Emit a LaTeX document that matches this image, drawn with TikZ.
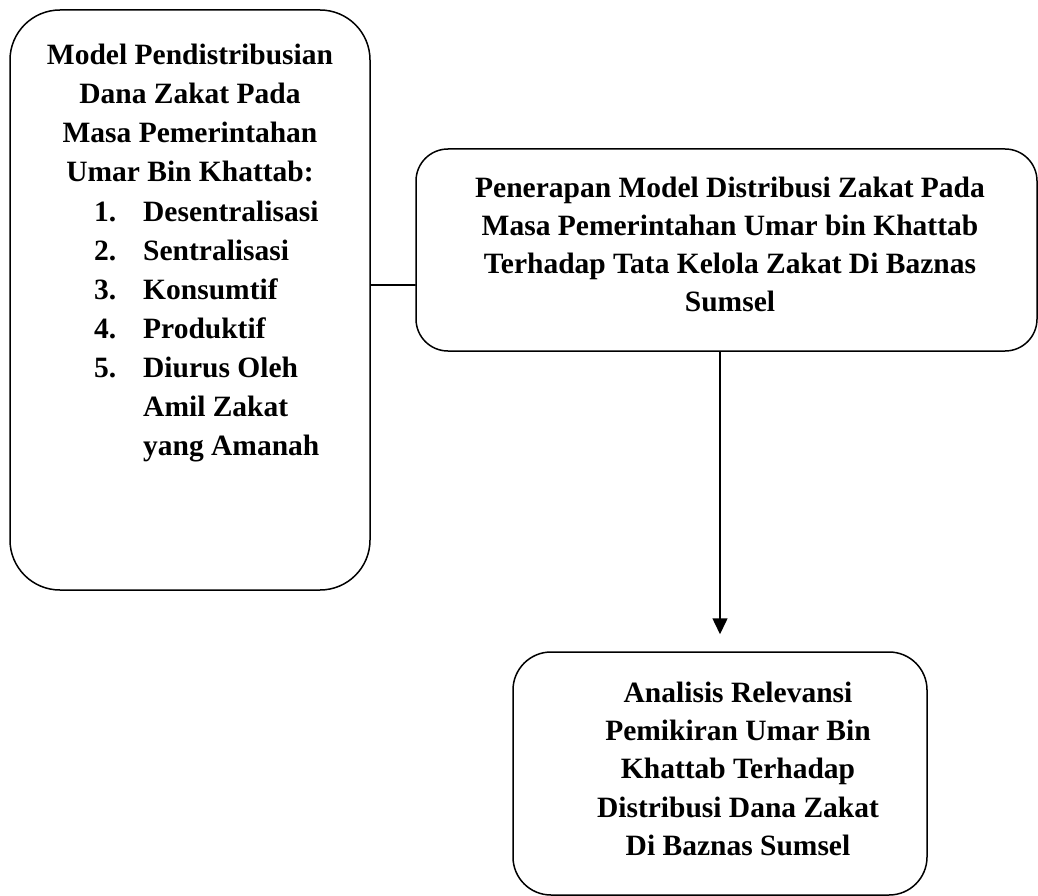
\documentclass[tikz,border=0pt]{standalone}
\usepackage{fontspec}
\setmainfont{Liberation Serif}
\usepackage{tikz}
\usetikzlibrary{arrows.meta,calc}

\begin{document}
\begin{tikzpicture}[x=1pt,y=-1pt,>=Stealth,line cap=round,line join=round,
    zbox@/.style={draw,line width=1.5pt,inner sep=0pt},
    conn@/.style={line width=1.5pt},
    txt@/.style={inner sep=0pt,font=\bfseries}]
    \useasboundingbox (0,0) rectangle (1038,896);

    % The three boxes.
    \node[zbox@,rounded corners=50pt,minimum width=360pt,minimum height=580pt]
      (model) at (190,300) {};
    \node[zbox@,rounded corners=32pt,minimum width=621pt,minimum height=202pt]
      (terap) at (726.5,250) {};
    \node[zbox@,rounded corners=38pt,minimum width=414pt,minimum height=243pt]
      (analisis) at (720,773.5) {};

    % The texts in the left box.
    \node[txt@,align=center,anchor=north,font=\fontsize{29.5}{39}\selectfont\bfseries]
      (modeltitle) at (190,44)
      {Model Pendistribusian\\ Dana Zakat Pada\\ Masa Pemerintahan\\ Umar Bin Khattab:};
    \node[txt@,anchor=north west,font=\fontsize{29.5}{39}\selectfont\bfseries]
      (modellist) at (94,193.7)
      {\begin{tabular}{@{}p{49pt}@{}l@{}}
        1. & Desentralisasi\\
        2. & Sentralisasi\\
        3. & Konsumtif\\
        4. & Produktif\\
        5. & Diurus Oleh\\
           & Amil Zakat\\
           & yang Amanah
       \end{tabular}};

    % The texts in the other two boxes.
    \node[txt@,align=center,anchor=north,font=\fontsize{29.5}{38}\selectfont\bfseries]
      (terapText) at (730,176.5)
      {Penerapan Model Distribusi Zakat Pada\\ Masa Pemerintahan Umar bin Khattab\\
       Terhadap Tata Kelola Zakat Di Baznas\\ Sumsel};
    \node[txt@,align=center,anchor=north,font=\fontsize{29.5}{38.3}\selectfont\bfseries]
      (analisisText) at (738,681.5)
      {Analisis Relevansi\\ Pemikiran Umar Bin\\ Khattab Terhadap\\
       Distribusi Dana Zakat\\ Di Baznas Sumsel};

    % The connectors.
    \draw[conn@] ([yshift=-35pt]terap.west) -- ([yshift=-35pt]terap.west -| model.east);
    \draw[conn@,-{Triangle[width=15pt,length=16pt]}]
      (terap.south -| analisis.north) -- ([yshift=17pt]analisis.north);
  \end{tikzpicture}
\end{document}
